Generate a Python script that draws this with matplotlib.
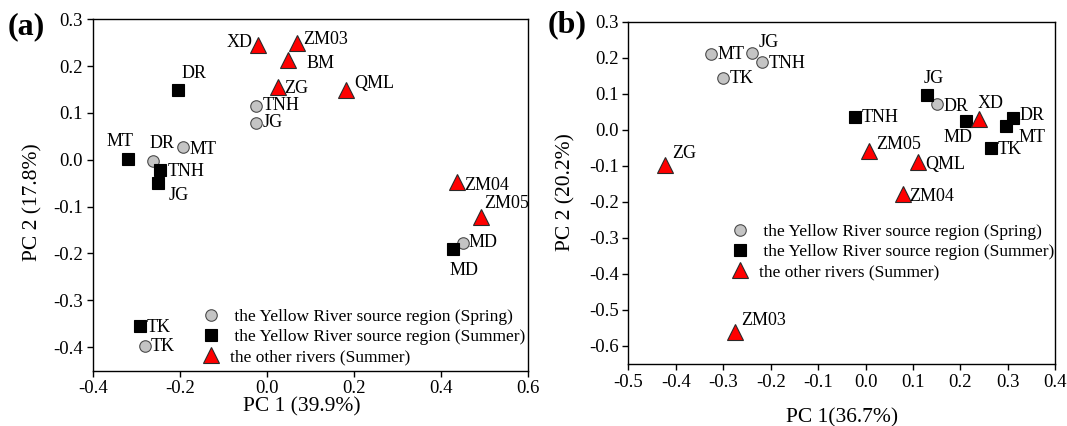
import matplotlib
matplotlib.use("Agg")
import matplotlib.pyplot as plt
from matplotlib.ticker import FormatStrFormatter, MultipleLocator

plt.rcParams["font.family"] = ["Liberation Serif", "DejaVu Serif"]
plt.rcParams["axes.unicode_minus"] = False

# ---- panel (a) ----
a_spring_names = ["DR", "MT", "TNH", "JG", "MD", "TK"]
a_spring_x = [-0.262, -0.192, -0.025, -0.025, 0.450, -0.281]
a_spring_y = [-0.002, 0.027, 0.115, 0.079, -0.177, -0.397]

a_summer_names = ["DR", "MT", "TNH", "JG", "MD", "TK"]
a_summer_x = [-0.205, -0.319, -0.246, -0.251, 0.428, -0.291]
a_summer_y = [0.149, 0.001, -0.022, -0.050, -0.191, -0.355]

a_other_names = ["XD", "ZM03", "BM", "ZG", "QML", "ZM04", "ZM05"]
a_other_x = [-0.021, 0.068, 0.049, 0.025, 0.181, 0.436, 0.492]
a_other_y = [0.245, 0.249, 0.213, 0.156, 0.149, -0.047, -0.122]

# ---- panel (b) ----
b_spring_names = ["MT", "JG", "TNH", "TK", "DR"]
b_spring_x = [-0.326, -0.239, -0.219, -0.300, 0.150]
b_spring_y = [0.210, 0.212, 0.187, 0.143, 0.071]

b_summer_names = ["JG", "TNH", "MD", "DR", "MT", "TK"]
b_summer_x = [0.129, -0.022, 0.211, 0.311, 0.297, 0.265]
b_summer_y = [0.097, 0.035, 0.024, 0.032, 0.011, -0.051]

b_other_names = ["XD", "ZG", "ZM05", "QML", "ZM04", "ZM03"]
b_other_x = [0.240, -0.423, 0.007, 0.111, 0.079, -0.276]
b_other_y = [0.029, -0.098, -0.058, -0.090, -0.179, -0.562]

legend_labels = [" the Yellow River source region (Spring)",
                 " the Yellow River source region (Summer)",
                 "the other rivers (Summer)"]

# label placement: (dx px, dy px downward, ha)
a_spring_off = [(9, -17, "center"), (6, 2, "left"), (7, 0, "left"), (7, 0, "left"),
                (6, 0, "left"), (6, 1, "left")]
a_summer_off = [(16, -17, "center"), (-8, -18, "center"), (8, 1, "left"),
                (21, 12, "center"), (11, 21, "center"), (7, 1, "left")]
a_other_off = [(-5, -3, "right"), (7, -4, "left"), (18, 3, "left"), (6, 2, "left"),
               (8, -7, "left"), (7, 4, "left"), (3, -13, "left")]

b_spring_off = [(7, 0, "left"), (6, -11, "left"), (7, 1, "left"), (6, 0, "left"),
                (7, 2, "left")]
b_summer_off = [(7, -16, "center"), (7, 0, "left"), (-8, 16, "center"),
                (6, -3, "left"), (12, 12, "left"), (6, 1, "left")]
b_other_off = [(11, -16, "center"), (7, -12, "left"), (7, -6, "left"),
               (7, 2, "left"), (6, 2, "left"), (7, -12, "left")]

W, H = 1067, 426
fig = plt.figure(figsize=(W / 100, H / 100), dpi=100)

spring_style = dict(marker="o", ms=8.3, mfc="#c4c4c4", mec="#4a4a4a", mew=0.8, ls="none")
summer_style = dict(marker="s", ms=8.3, mfc="black", mec="black", mew=0.8, ls="none")
other_style = dict(marker="^", ms=11.5, mfc="#ff0000", mec="#2a2a2a", mew=0.8, ls="none")

LABEL_FS = 13
LEG_FS = 12.5


def box(l, t, r, b):
    return [l / W, 1 - b / H, (r - l) / W, (b - t) / H]


def label_points(ax, names, xs, ys, offs):
    for n, x, y, (dx, dy, ha) in zip(names, xs, ys, offs):
        ax.annotate(n, (x, y), xytext=(dx, -dy), textcoords="offset pixels",
                    ha=ha, va="center", fontsize=LABEL_FS)


def style_axes(ax):
    for s in ax.spines.values():
        s.set_linewidth(1.0)
    ax.tick_params(direction="out", length=4, width=1.0, labelsize=13.5,
                   top=False, right=False, pad=3)
    ax.xaxis.set_major_formatter(FormatStrFormatter("%.1f"))
    ax.yaxis.set_major_formatter(FormatStrFormatter("%.1f"))


def draw_panel(ax, sp, su, ot, legend_anchor):
    h1, = ax.plot(sp[1], sp[2], **spring_style, label=legend_labels[0])
    h2, = ax.plot(su[1], su[2], **summer_style, label=legend_labels[1])
    h3, = ax.plot(ot[1], ot[2], **other_style, label=legend_labels[2])
    label_points(ax, sp[0], sp[1], sp[2], sp[3])
    label_points(ax, su[0], su[1], su[2], su[3])
    label_points(ax, ot[0], ot[1], ot[2], ot[3])
    ax.legend(handles=[h1, h2, h3], loc="upper left",
              bbox_to_anchor=(legend_anchor[0] / W, 1 - legend_anchor[1] / H),
              bbox_transform=fig.transFigure, frameon=False, fontsize=LEG_FS,
              handlelength=1.0, handletextpad=0.6, labelspacing=0.22,
              borderpad=0, borderaxespad=0, numpoints=1)


# panel (a)
ax1 = fig.add_axes(box(92.7, 19.3, 528.3, 370.5))
draw_panel(ax1,
           (a_spring_names, a_spring_x, a_spring_y, a_spring_off),
           (a_summer_names, a_summer_x, a_summer_y, a_summer_off),
           (a_other_names, a_other_x, a_other_y, a_other_off),
           (202, 309))
ax1.set_xlim(-0.4, 0.6)
ax1.set_ylim(-0.45, 0.3)
ax1.xaxis.set_major_locator(MultipleLocator(0.2))
ax1.yaxis.set_major_locator(MultipleLocator(0.1))
style_axes(ax1)

# panel (b)
ax2 = fig.add_axes(box(628.3, 21.7, 1055.3, 364))
draw_panel(ax2,
           (b_spring_names, b_spring_x, b_spring_y, b_spring_off),
           (b_summer_names, b_summer_x, b_summer_y, b_summer_off),
           (b_other_names, b_other_x, b_other_y, b_other_off),
           (731, 224))
ax2.set_xlim(-0.5, 0.4)
ax2.set_ylim(-0.65, 0.3)
ax2.xaxis.set_major_locator(MultipleLocator(0.1))
ax2.yaxis.set_major_locator(MultipleLocator(0.1))
style_axes(ax2)

# axis titles and panel letters
fig.text(302 / W, 1 - 407 / H, "PC 1 (39.9%)", ha="center", va="center", fontsize=15.5)
fig.text(33 / W, 1 - 201.7 / H, "PC 2 (17.8%)", ha="center", va="center",
         rotation=90, fontsize=15.5)
fig.text(842 / W, 1 - 418 / H, "PC 1(36.7%)", ha="center", va="center", fontsize=15.5)
fig.text(566 / W, 1 - 192 / H, "PC 2 (20.2%)", ha="center", va="center",
         rotation=90, fontsize=15.5)
fig.text(25.8 / W, 1 - 27 / H, "(a)", ha="center", va="center", fontsize=23,
         fontweight="bold")
fig.text(566.7 / W, 1 - 24.3 / H, "(b)", ha="center", va="center", fontsize=23,
         fontweight="bold")

fig.savefig("out.png", dpi=100)
